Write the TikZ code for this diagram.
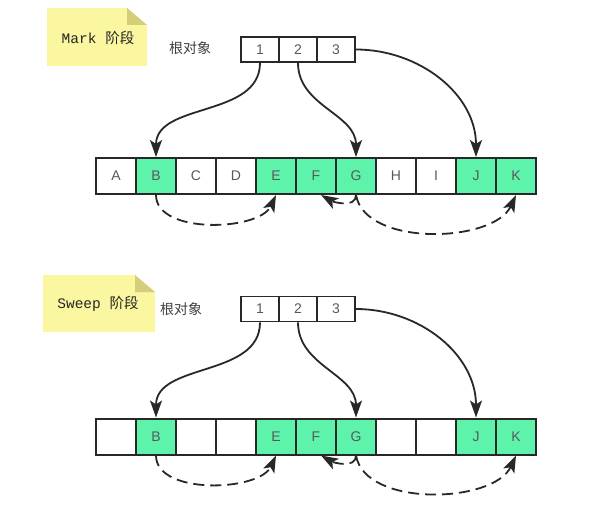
\documentclass[tikz,border=0pt]{standalone}
\usepackage{fontspec}
\setmainfont{Liberation Sans}
\newfontfamily\cjk{Noto Sans CJK SC}
\newfontfamily\mono{Liberation Mono}
\usetikzlibrary{calc}
\usetikzlibrary{positioning}
\usetikzlibrary{arrows.meta}
\usepackage{xcolor}
\definecolor{live}{RGB}{94,243,170}
\definecolor{notey}{RGB}{251,246,160}
\definecolor{notefold}{RGB}{212,205,122}
\definecolor{ink}{RGB}{40,40,40}

\begin{document}
\begin{tikzpicture}[x=1pt,y=1pt,
  cell/.style={draw=ink, line width=2pt, minimum width=40pt, minimum height=36pt, inner sep=0pt, font=\fontsize{14}{16}\selectfont, text=black!65},
  rootcell/.style={draw=ink, line width=1.8pt, fill=white, minimum width=38pt, minimum height=25pt, inner sep=0pt, font=\fontsize{14}{16}\selectfont, text=black!65},
  rootarrow/.style={-{Stealth[length=17pt,width=12pt,inset=4pt]}, line width=1.8pt, draw=ink},
  scanarrow/.style={rootarrow, dash pattern=on 11pt off 6pt},
  phase/.style={font=\fontsize{14.5}{17}\selectfont, text=black!85},
  rootlabel/.style={font=\cjk\fontsize{14}{16}\selectfont, text=black!75}]
  \useasboundingbox (0,0) rectangle (593,-513);

  \fill[notey] (47,-8) -- (127,-8) -- (147,-25) -- (147,-66) -- (47,-66) -- cycle;
  \fill[notefold] (127,-8) -- (147,-25) -- (127,-25) -- cycle;
  \node[phase] (mnote) at (98,-38) {{\mono Mark }{\cjk 阶段}};
  \node[rootlabel] (mlabel) at (190,-48) {根对象};
  \foreach \n in {1,2,3}
    \node[rootcell] (mr\n) at ({260+38*(\n-1)},-49.5) {\n};
  \foreach \l/\c [count=\i] in {A/white,B/live,C/white,D/white,E/live,F/live,G/live,H/white,I/white,J/live,K/live}
    \node[cell, fill=\c] (m\l) at ({116+40*(\i-1)},-176) {\l};
  \draw[rootarrow] (mr1.south) to[out=-90,in=90] (mB.north);
  \draw[rootarrow] (mr2.south) to[out=-90,in=90] (mG.north);
  \draw[rootarrow] (mr3.east) to[out=0,in=90] (mJ.north);
  \draw[scanarrow] (mB.south) to[out=-90,in=-115,looseness=0.85] (mE.south);
  \draw[scanarrow] (mG.south) to[out=-90,in=-30] (mF.-75);
  \draw[scanarrow] (mG.south) to[out=-80,in=-115,looseness=0.85] (mK.south);

  \fill[notey] (43,-275) -- (135,-275) -- (155,-292) -- (155,-332) -- (43,-332) -- cycle;
  \fill[notefold] (135,-275) -- (155,-292) -- (135,-292) -- cycle;
  \node[phase] (snote) at (98,-304) {{\mono Sweep }{\cjk 阶段}};
  \node[rootlabel] (slabel) at (181,-309) {根对象};
  \foreach \n in {1,2,3}
    \node[rootcell] (sr\n) at ({260+38*(\n-1)},-309) {\n};
  \foreach \l/\c/\t [count=\i] in {A/white/{},B/live/B,C/white/{},D/white/{},E/live/E,F/live/F,G/live/G,H/white/{},I/white/{},J/live/J,K/live/K}
    \node[cell, fill=\c] (s\l) at ({116+40*(\i-1)},-436.5) {\t};
  \draw[rootarrow] (sr1.south) to[out=-90,in=90] (sB.north);
  \draw[rootarrow] (sr2.south) to[out=-90,in=90] (sG.north);
  \draw[rootarrow] (sr3.east) to[out=0,in=90] (sJ.north);
  \draw[scanarrow] (sB.south) to[out=-90,in=-115,looseness=0.85] (sE.south);
  \draw[scanarrow] (sG.south) to[out=-90,in=-30] (sF.-75);
  \draw[scanarrow] (sG.south) to[out=-80,in=-115,looseness=0.85] (sK.south);
\end{tikzpicture}
\end{document}
